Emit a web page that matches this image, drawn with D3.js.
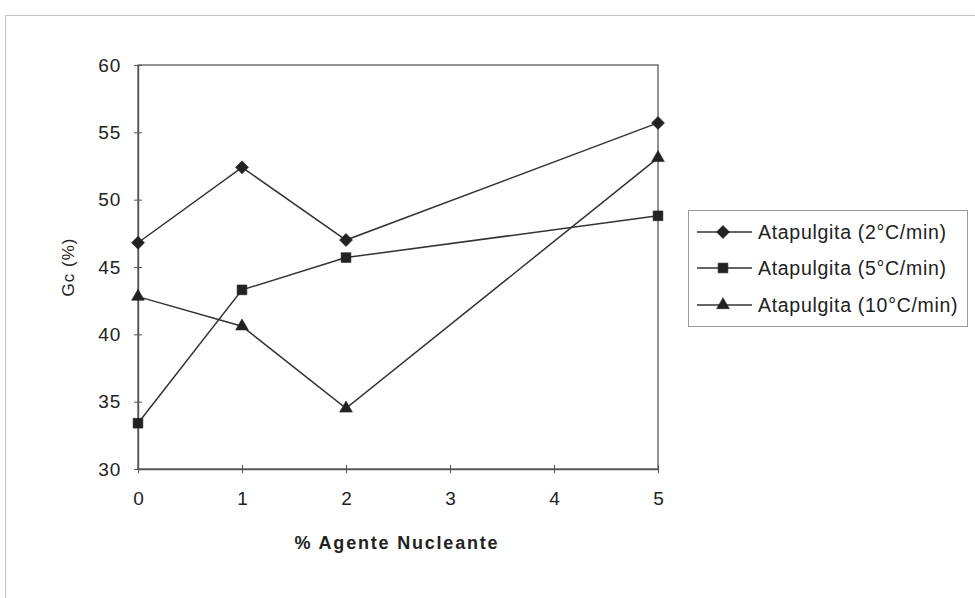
<!DOCTYPE html>
<html>
<head>
<meta charset="utf-8">
<script src="https://cdn.jsdelivr.net/npm/d3@7"></script>
<style>
  body { margin: 0; background: #fff; }
  svg { display: block; }
  text { font-family: "Liberation Sans", Arial, sans-serif; fill: #222; }
</style>
</head>
<body>
<svg id="chart" width="975" height="598"></svg>
<script>
const xValues = [0, 1, 2, 5];
const xTicks = [0, 1, 2, 3, 4, 5];
const yTicks = [30, 35, 40, 45, 50, 55, 60];
const seriesNames = ["Atapulgita (2°C/min)", "Atapulgita (5°C/min)", "Atapulgita (10°C/min)"];
const serie2 = [46.8, 52.4, 47.0, 55.7];
const serie5 = [33.4, 43.3, 45.7, 48.8];
const serie10 = [42.8, 40.6, 34.5, 53.1];
const symbols = ["diamond", "square", "triangle"];

const svg = d3.select("#chart");
const x = d3.scaleLinear().domain([0, 5]).range([138, 658]);
const y = d3.scaleLinear().domain([30, 60]).range([469, 65]);

// outer frame (faint)
svg.append("path").attr("d", "M5.5,598 V15.5 H975")
  .attr("fill", "none").attr("stroke", "#c4c4c4").attr("stroke-width", 1);

// plot frame
svg.append("rect").attr("x", x(0)).attr("y", y(60))
  .attr("width", x(5) - x(0)).attr("height", y(30) - y(60))
  .attr("fill", "none").attr("stroke", "#666").attr("stroke-width", 1.4);

// axes
const xAxis = d3.axisBottom(x).tickValues(xTicks).tickFormat(d3.format("d")).tickSizeInner(4).tickSizeOuter(0).tickPadding(19);
const gx = svg.append("g").attr("transform", `translate(0,${y(30)})`).call(xAxis);
gx.select(".domain").attr("stroke", "#555").attr("stroke-width", 1.4);
gx.selectAll(".tick line").attr("y1", -4).attr("y2", 4).attr("stroke", "#555");
gx.selectAll(".tick text").attr("font-size", 19).attr("fill", "#444");

const yAxis = d3.axisLeft(y).tickValues(yTicks).tickSizeInner(4).tickSizeOuter(0).tickPadding(13);
const gy = svg.append("g").attr("transform", `translate(${x(0)},0)`).call(yAxis);
gy.select(".domain").attr("stroke", "#555").attr("stroke-width", 1.4);
gy.selectAll(".tick line").attr("x1", -4).attr("x2", 4).attr("stroke", "#555");
gy.selectAll(".tick text").attr("font-size", 19).attr("letter-spacing", 0.8).attr("fill", "#444");

// axis titles
svg.append("text").attr("x", 397).attr("y", 549).attr("text-anchor", "middle")
  .attr("font-size", 18).attr("font-weight", "bold").attr("letter-spacing", 1.8).attr("fill", "#333")
  .text("% Agente Nucleante");
svg.append("text").attr("transform", "translate(74,267) rotate(-90)")
  .attr("text-anchor", "middle").attr("font-size", 17).attr("letter-spacing", 1).attr("fill", "#333")
  .text("Gc (%)");

// series
const allSeries = [serie2, serie5, serie10];
const diamondPath = "M0,-6.5L6.5,0L0,6.5L-6.5,0Z";
const symPath = {
  diamond: () => diamondPath,
  square: d3.symbol().type(d3.symbolSquare).size(95),
  triangle: d3.symbol().type(d3.symbolTriangle).size(70)
};
const line = d3.line().x((d, i) => x(xValues[i])).y(d => y(d));

allSeries.forEach((vals) => {
  svg.append("path").datum(vals).attr("d", line)
    .attr("fill", "none").attr("stroke", "#333").attr("stroke-width", 1.5);
});
allSeries.forEach((vals, k) => {
  svg.selectAll(null).data(vals).enter().append("path")
    .attr("d", symPath[symbols[k]]())
    .attr("transform", (d, i) => `translate(${x(xValues[i])},${y(d)})`)
    .attr("fill", "#222").attr("stroke", "#222").attr("stroke-width", 0.6);
});

// legend
const lg = svg.append("g");
lg.append("rect").attr("x", 688.5).attr("y", 210.5).attr("width", 279).attr("height", 116)
  .attr("fill", "#fff").attr("stroke", "#999").attr("stroke-width", 1);
const rowY = [232, 268, 305];
seriesNames.forEach((name, k) => {
  lg.append("line").attr("x1", 697).attr("x2", 752).attr("y1", rowY[k]).attr("y2", rowY[k])
    .attr("stroke", "#333").attr("stroke-width", 1.5);
  lg.append("path").attr("d", symPath[symbols[k]]()).attr("transform", `translate(723,${rowY[k]})`)
    .attr("fill", "#222").attr("stroke", "#222").attr("stroke-width", 0.6);
  lg.append("text").attr("x", 758).attr("y", rowY[k]).attr("dy", "0.36em")
    .attr("font-size", 19.5).attr("letter-spacing", 0.7).attr("fill", "#333").text(name);
});
</script>
</body>
</html>
